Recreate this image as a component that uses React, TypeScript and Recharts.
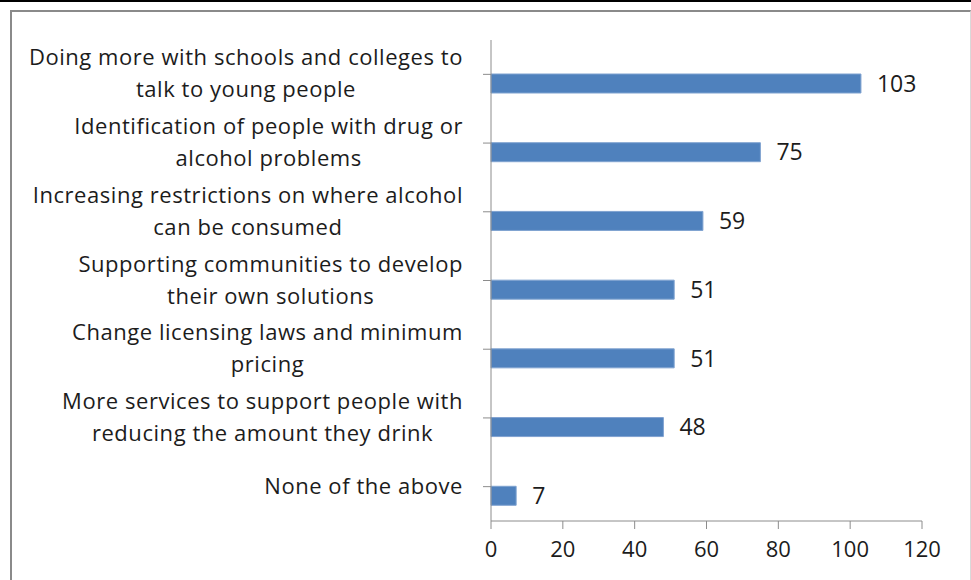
import { BarChart, Bar, XAxis, YAxis, LabelList } from 'recharts';

// categories (top to bottom), line breaks as in the original chart
const categories = [
  'Doing more with schools and colleges to\ntalk to young people',
  'Identification of people with drug or\nalcohol problems',
  'Increasing restrictions on where alcohol\ncan be consumed',
  'Supporting communities to develop\ntheir own solutions',
  'Change licensing laws and minimum\npricing',
  'More services to support people with\nreducing the amount they drink',
  'None of the above',
];
const responses = [103, 75, 59, 51, 51, 48, 7];
// empty first series from the original sheet, pushes the bars below the band centre
const blank = [0, 0, 0, 0, 0, 0, 0];
const xTicks = [0, 20, 40, 60, 80, 100, 120];

const data = categories.map((label, i) => ({
  label,
  blank: blank[i],
  responses: responses[i],
}));

const FONT = '"Open Sans", Lato, sans-serif';
const TEXT = '#1c1c1c';
const AXIS = '#8c8c8c';

const CategoryTick = ({ y, payload }: { y: number; payload: { value: string } }) => (
  <foreignObject x={0} y={y - 42} width={463} height={80}>
    <div
      style={{
        width: 463,
        height: 80,
        display: 'flex',
        justifyContent: 'flex-end',
        alignItems: 'center',
      }}
    >
      <div
        style={{
          textAlign: 'center',
          whiteSpace: 'pre-line',
          fontFamily: FONT,
          fontSize: 22,
          letterSpacing: 0.55,
          lineHeight: '32px',
          color: TEXT,
        }}
      >
        {payload.value}
      </div>
    </div>
  </foreignObject>
);

export default function App() {
  return (
    <div
      style={{
        position: 'absolute',
        left: 0,
        top: 0,
        width: 971,
        height: 580,
        background: '#fff',
        overflow: 'hidden',
      }}
    >
      <div style={{ position: 'absolute', left: 0, top: 0, width: 971, height: 2, background: '#000' }} />
      <div
        style={{
          position: 'absolute',
          left: 10,
          top: 10,
          width: 958,
          height: 600,
          borderTop: '2px solid #8a8a8a',
          borderLeft: '2px solid #8a8a8a',
          borderRight: '1px solid #d9d9d9',
        }}
      />
      <div style={{ position: 'absolute', left: 0, top: 0 }}>
        <BarChart
          width={971}
          height={580}
          data={data}
          layout="vertical"
          margin={{ top: 40, right: 49, bottom: 0, left: 0 }}
          barGap={0}
        >
          <XAxis
            type="number"
            domain={[0, 120]}
            ticks={xTicks}
            interval={0}
            height={59}
            stroke={AXIS}
            tickSize={8}
            tickMargin={12}
            tick={{ fill: TEXT, fontSize: 22, fontFamily: FONT }}
          />
          <YAxis
            type="category"
            dataKey="label"
            width={491}
            stroke={AXIS}
            tickSize={8}
            interval={0}
            tick={CategoryTick}
          />
          <Bar dataKey="blank" barSize={19} fill="none" isAnimationActive={false} />
          <Bar
            dataKey="responses"
            barSize={19}
            fill="#4f81bd"
            stroke="#7fa2d0"
            strokeWidth={1}
            isAnimationActive={false}
          >
            <LabelList
              dataKey="responses"
              position="right"
              offset={16}
              fill={TEXT}
              fontSize={23}
              fontFamily={FONT}
            />
          </Bar>
        </BarChart>
      </div>
    </div>
  );
}
